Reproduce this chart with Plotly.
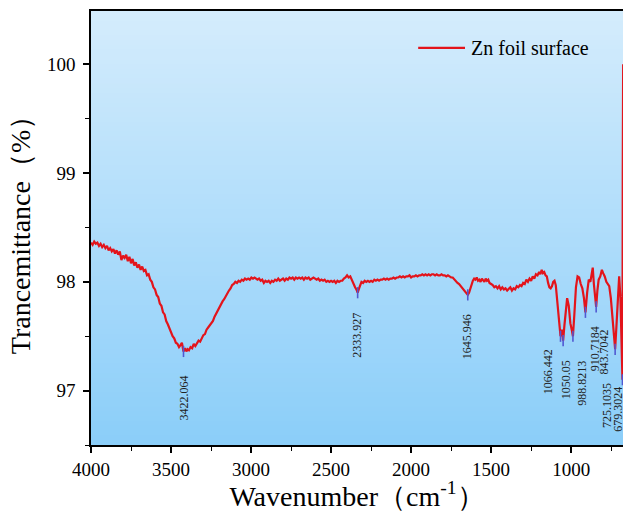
import plotly.graph_objects as go

# FTIR spectrum of the Zn foil surface (wavenumber in cm-1, transmittance in %)
wavenumber = [
    4000, 3990, 3980, 3970, 3960, 3950, 3940, 3930, 3920, 3910, 3900, 3890, 3880, 3870,
    3860, 3850, 3840, 3830, 3820, 3810, 3800, 3790, 3780, 3770, 3760, 3750, 3740, 3730,
    3720, 3710, 3700, 3690, 3680, 3670, 3660, 3650, 3640, 3630, 3620, 3610, 3600, 3590,
    3580, 3570, 3560, 3550, 3540, 3530, 3520, 3510, 3500, 3490, 3480, 3470, 3460, 3450,
    3440, 3432, 3422.064, 3412, 3404, 3396, 3388, 3378, 3368, 3358, 3348, 3338, 3328,
    3318, 3308, 3298, 3288, 3278, 3268, 3258, 3248, 3238, 3228, 3218, 3208, 3198, 3188,
    3178, 3168, 3158, 3148, 3138, 3128, 3118, 3108, 3098, 3088, 3078, 3068, 3058, 3048,
    3038, 3028, 3018, 3008, 2998, 2988, 2978, 2960, 2950, 2940, 2930, 2920, 2910, 2900,
    2890, 2880, 2870, 2860, 2850, 2840, 2830, 2820, 2810, 2800, 2790, 2780, 2770, 2760,
    2750, 2740, 2730, 2720, 2710, 2700, 2690, 2680, 2670, 2660, 2650, 2640, 2630, 2620,
    2610, 2600, 2590, 2580, 2570, 2560, 2550, 2540, 2530, 2520, 2510, 2500, 2490, 2480,
    2470, 2460, 2450, 2440, 2430, 2420, 2410, 2400, 2390, 2380, 2370, 2360, 2350, 2342,
    2333.927, 2325, 2318, 2310, 2300, 2290, 2280, 2270, 2260, 2250, 2240, 2230, 2220,
    2210, 2200, 2190, 2180, 2170, 2160, 2150, 2140, 2130, 2120, 2110, 2100, 2090, 2080,
    2070, 2060, 2050, 2040, 2030, 2020, 2010, 2000, 1990, 1980, 1970, 1960, 1950, 1940,
    1930, 1920, 1910, 1900, 1890, 1880, 1870, 1860, 1850, 1840, 1830, 1820, 1810, 1800,
    1790, 1780, 1770, 1760, 1750, 1740, 1730, 1720, 1710, 1700, 1690, 1680, 1670, 1660,
    1652, 1645.946, 1638, 1630, 1622, 1614, 1606, 1598, 1590, 1582, 1574, 1566, 1558,
    1550, 1542, 1534, 1526, 1518, 1510, 1500, 1490, 1480, 1470, 1460, 1450, 1440, 1430,
    1420, 1410, 1400, 1390, 1380, 1370, 1360, 1350, 1340, 1330, 1320, 1310, 1300, 1290,
    1280, 1270, 1260, 1250, 1240, 1230, 1220, 1210, 1200, 1192, 1184, 1176, 1168, 1160,
    1152, 1144, 1136, 1128, 1120, 1112, 1104, 1096, 1088, 1080, 1072, 1066.442, 1058,
    1050.05, 1042, 1033, 1025, 1015, 1005, 995, 988.8213, 980, 970, 960, 950, 940, 930,
    920, 910.7184, 900, 890, 880, 870, 865, 858, 850, 843.7042, 836, 828, 818, 808, 800,
    790, 780, 770, 762, 752, 742, 733, 725.1035, 716, 708, 700, 692, 685, 679.3024,
    677.5, 675,
]
transmittance = [
    98.36, 98.34, 98.37, 98.35, 98.36, 98.33, 98.35, 98.32, 98.34, 98.31, 98.33, 98.29, 98.31, 98.28,
    98.30, 98.26, 98.29, 98.25, 98.28, 98.20, 98.24, 98.22, 98.25, 98.19, 98.23, 98.17, 98.21, 98.15,
    98.18, 98.13, 98.16, 98.11, 98.14, 98.10, 98.11, 98.06, 98.07, 98.02, 98.00, 97.95, 97.93, 97.88,
    97.86, 97.80, 97.78, 97.72, 97.70, 97.64, 97.61, 97.57, 97.55, 97.50, 97.48, 97.44, 97.43, 97.40,
    97.42, 97.44, 97.36, 97.39, 97.36, 97.38, 97.37, 97.40, 97.39, 97.43, 97.41, 97.44, 97.46,
    97.45, 97.49, 97.51, 97.52, 97.56, 97.58, 97.60, 97.63, 97.64, 97.68, 97.71, 97.73, 97.77, 97.79,
    97.82, 97.84, 97.87, 97.89, 97.92, 97.94, 97.97, 97.98, 98.00, 97.99, 98.01, 98.00, 98.02, 98.01,
    98.03, 98.02, 98.03, 98.02, 98.04, 98.03, 98.04, 98.02, 98.03, 98.01, 98.02, 97.99, 98.01, 98.00,
    98.01, 97.99, 98.01, 98.00, 98.02, 98.01, 98.03, 98.01, 98.02, 98.03, 98.01, 98.03, 98.02, 98.04,
    98.03, 98.04, 98.02, 98.04, 98.03, 98.04, 98.03, 98.04, 98.02, 98.04, 98.03, 98.04, 98.02, 98.03,
    98.04, 98.03, 98.02, 98.03, 98.01, 98.02, 98.01, 98.02, 98.00, 98.01, 98.00, 98.01, 98.00, 98.01,
    97.99, 98.01, 98.00, 98.01, 98.01, 98.03, 98.04, 98.06, 98.04, 98.05, 98.01, 97.98, 97.95, 97.93,
    97.90, 97.94, 97.97, 98.00, 97.99, 98.01, 98.00, 98.01, 98.00, 98.01, 98.00, 98.02, 98.01,
    98.02, 98.01, 98.02, 98.02, 98.03, 98.02, 98.03, 98.02, 98.03, 98.03, 98.04, 98.03, 98.04, 98.04,
    98.05, 98.04, 98.05, 98.04, 98.05, 98.05, 98.06, 98.04, 98.05, 98.05, 98.06, 98.05, 98.06, 98.06,
    98.07, 98.06, 98.07, 98.06, 98.07, 98.06, 98.07, 98.07, 98.06, 98.07, 98.06, 98.06, 98.07, 98.06,
    98.06, 98.05, 98.06, 98.05, 98.04, 98.04, 98.02, 98.01, 97.99, 97.98, 97.96, 97.95, 97.93, 97.91,
    97.89, 97.88, 97.90, 97.94, 97.98, 98.01, 98.03, 98.02, 98.04, 98.01, 98.02, 98.00, 98.03,
    98.01, 98.00, 98.03, 98.01, 98.02, 97.99, 97.98, 97.97, 97.95, 97.96, 97.94, 97.96, 97.93, 97.95,
    97.93, 97.94, 97.92, 97.94, 97.95, 97.92, 97.94, 97.93, 97.96, 97.95, 97.97, 97.96, 97.99, 97.98,
    98.02, 98.00, 98.03, 98.01, 98.05, 98.03, 98.07, 98.06, 98.09, 98.07, 98.11, 98.08, 98.09, 98.06,
    98.05, 97.99, 97.95, 97.94, 97.96, 98.00, 98.01, 97.97, 97.85, 97.72, 97.56, 97.50, 97.56,
    97.46, 97.60, 97.78, 97.85, 97.78, 97.62, 97.55, 97.50, 97.70, 97.95, 98.05, 98.04, 97.98, 97.94,
    97.85, 97.72, 97.90, 98.02, 98.00, 98.08, 98.13, 97.98, 97.85, 97.77, 97.92, 98.02, 98.05, 98.11, 98.08,
    98.05, 98.00, 97.98, 97.96, 97.85, 97.65, 97.48, 97.38, 97.62, 97.90, 98.05, 97.85, 97.40, 97.10,
    99.00, 100.00,
]

# labelled absorption bands
peak_wavenumber = [3422.064, 2333.927, 1645.946, 1066.442, 1050.05, 988.8213,
                   910.7184, 843.7042, 725.1035, 679.3024]
peak_transmittance = [97.36, 97.90, 97.88, 97.50, 97.46, 97.50, 97.72, 97.77, 97.38, 97.10]
peak_labels = ["3422.064", "2333.927", "1645.946", "1066.442", "1050.05", "988.8213",
               "910.7184", "843.7042", "725.1035", "679.3024"]

x_ticks = [4000, 3500, 3000, 2500, 2000, 1500, 1000]
y_ticks = [97, 98, 99, 100]

series_name = "Zn foil surface"

# label nudges in pixels (x, y) so crowded labels do not overlap
label_nudge = [(0, -22), (0, -18), (0, -17), (-13, -11), (3, -18), (9, -22),
               (9, -12), (8, -21), (-8, -32), (-4, -5)]

SERIF = "Liberation Serif, Times New Roman, serif"
LINE_RED = "#e3141b"

fig = go.Figure()

fig.add_trace(go.Scatter(
    x=wavenumber, y=transmittance, mode="lines", name=series_name,
    line=dict(color=LINE_RED, width=2.2), showlegend=False,
))

fig.add_trace(go.Scatter(
    x=peak_wavenumber, y=peak_transmittance, mode="markers", showlegend=False,
    marker=dict(symbol="line-ns", size=8, line=dict(color="#5058d2", width=1.6)),
    hoverinfo="skip",
))

for wn, t, lab, (dx, dy) in zip(peak_wavenumber, peak_transmittance, peak_labels, label_nudge):
    fig.add_annotation(
        x=wn, y=t, text=lab, showarrow=False, textangle=-90,
        xanchor="center", yanchor="top", xshift=dx, yshift=dy,
        font=dict(family=SERIF, size=12, color="#222222"),
    )

# vertical light-blue gradient behind the plot area
n_bands = 90
top_rgb = (212, 236, 252)
bot_rgb = (139, 206, 249)
for i in range(n_bands):
    f = i / (n_bands - 1)
    r = round(bot_rgb[0] + (top_rgb[0] - bot_rgb[0]) * f)
    g = round(bot_rgb[1] + (top_rgb[1] - bot_rgb[1]) * f)
    b = round(bot_rgb[2] + (top_rgb[2] - bot_rgb[2]) * f)
    fig.add_shape(
        type="rect", xref="x domain", yref="y domain",
        x0=0, x1=1, y0=i / n_bands, y1=(i + 1) / n_bands + 0.002,
        fillcolor=f"rgb({r},{g},{b})", line_width=0, layer="below",
    )

# legend key: a longer line sample than the built-in legend draws
fig.add_shape(
    type="line", xref="x domain", yref="y domain",
    x0=0.615, x1=0.703, y0=0.915, y1=0.915,
    line=dict(color=LINE_RED, width=2.2),
)
fig.add_annotation(
    xref="x domain", yref="y domain", x=0.711, y=0.915,
    xanchor="left", yanchor="middle", showarrow=False,
    text=series_name, font=dict(family=SERIF, size=20, color="black"),
)

fig.update_layout(
    width=623, height=512,
    margin=dict(l=91, r=0, t=11, b=67),
    paper_bgcolor="white", plot_bgcolor="rgba(0,0,0,0)",
    font=dict(family=SERIF, color="black"),
    showlegend=False,
)

fig.update_xaxes(
    range=[4000, 676], tickvals=x_ticks, ticktext=[str(v) for v in x_ticks],
    ticks="outside", ticklen=6, tickwidth=1.5, tickcolor="black",
    minor=dict(dtick=250, ticks="outside", ticklen=4, tickwidth=1.2, tickcolor="black"),
    showline=True, linecolor="black", linewidth=1.5, mirror=True,
    showgrid=False, zeroline=False,
    tickfont=dict(family=SERIF, size=19),
    title=dict(text="Wavenumber（cm<sup>-1</sup>）", font=dict(family=SERIF, size=28), standoff=6),
)
fig.update_yaxes(
    range=[96.5, 100.49], tickvals=y_ticks, ticktext=[str(v) for v in y_ticks],
    ticks="outside", ticklen=6, tickwidth=1.5, tickcolor="black",
    minor=dict(dtick=0.5, ticks="outside", ticklen=4, tickwidth=1.2, tickcolor="black"),
    showline=True, linecolor="black", linewidth=1.5, mirror=False,
    showgrid=False, zeroline=False,
    tickfont=dict(family=SERIF, size=19), ticklabelstandoff=4,
    title=dict(text="Trancemittance（%）", font=dict(family=SERIF, size=28), standoff=8),
)

fig.write_html("out.html")
